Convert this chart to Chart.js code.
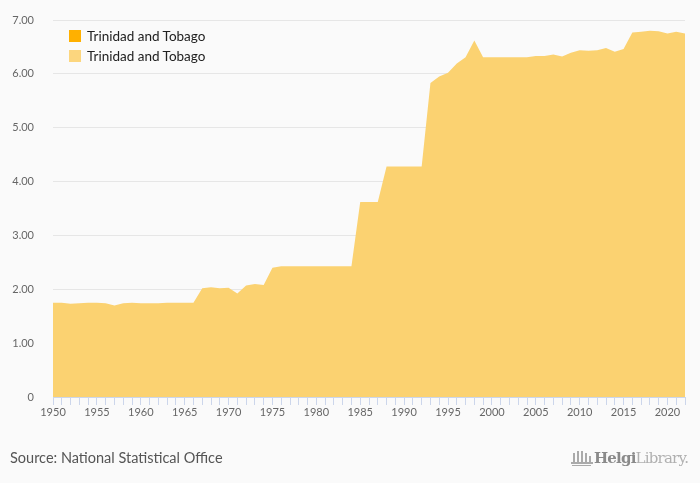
<!DOCTYPE html>
<html>
<head>
<meta charset="utf-8">
<script src="https://cdn.jsdelivr.net/npm/chart.js@4/dist/chart.umd.min.js"></script>
<style>
  body { margin: 0; background: #fafafa; }
  #wrap { position: relative; width: 700px; height: 483px; font-family: "Lato", sans-serif; }
  #legend { position: absolute; left: 69px; top: 26px; }
  .item { height: 20px; display: flex; align-items: center; font-size: 13.5px; color: #222; }
  .swatch { width: 12px; height: 12px; margin-right: 6px; }
  #source { position: absolute; left: 10px; top: 449px; font-size: 14.5px; color: #555; }
  #logo { position: absolute; left: 570px; top: 447px; height: 22px; display: flex; align-items: center; font-family: "DejaVu Serif", serif; font-size: 15px; letter-spacing: -0.8px; }
  #logo b { color: #8a8a8a; }
  #logo span { font-weight: 300; color: #b0b0b0; }
</style>
</head>
<body>
<div id="wrap">
  <canvas id="chart" width="700" height="483"></canvas>
  <div id="legend"></div>
  <div id="source">Source: National Statistical Office</div>
  <div id="logo">
    <svg width="24" height="20" viewBox="0 0 24 20">
      <g fill="#aaa">
        <rect x="3" y="5" width="2" height="9"/><rect x="7" y="3" width="2" height="11"/>
        <rect x="11" y="3" width="2" height="11"/><rect x="15" y="5" width="2" height="9"/>
        <rect x="19" y="8" width="2" height="6"/><rect x="1" y="14" width="22" height="2"/>
        <rect x="2" y="17" width="19" height="1"/>
      </g>
    </svg>
    <b>Helgi</b><span>Library.</span>
  </div>
</div>
<script>
const years = []
for (let y = 1950; y <= 2022; y++) years.push(y)

const values = [
  1.75, 1.75, 1.73, 1.74, 1.75, 1.75, 1.74, 1.70, 1.74, 1.75,
  1.74, 1.74, 1.74, 1.75, 1.75, 1.75, 1.75, 2.02, 2.04, 2.02,
  2.03, 1.92, 2.07, 2.10, 2.08, 2.40, 2.43, 2.43, 2.43, 2.43,
  2.43, 2.43, 2.43, 2.43, 2.43, 3.62, 3.62, 3.62, 4.28, 4.28,
  4.28, 4.28, 4.28, 5.83, 5.95, 6.02, 6.19, 6.31, 6.62, 6.31,
  6.31, 6.31, 6.31, 6.31, 6.31, 6.33, 6.33, 6.36, 6.32, 6.39,
  6.44, 6.43, 6.44, 6.48, 6.41, 6.46, 6.77, 6.78, 6.80, 6.79,
  6.75, 6.78, 6.75
]

const seriesNames = ["Trinidad and Tobago", "Trinidad and Tobago"]
const seriesColors = ["#ffb000", "#fcd67e"]
const yTicks = [0, 1, 2, 3, 4, 5, 6, 7]

const legend = document.getElementById("legend")
seriesNames.forEach((name, i) => {
  const row = document.createElement("div")
  row.className = "item"
  row.innerHTML = '<div class="swatch" style="background:' + seriesColors[i] + '"></div>' + name
  legend.appendChild(row)
})

new Chart(document.getElementById("chart"), {
  type: "line",
  data: {
    datasets: [
      {
        label: seriesNames[1],
        data: years.map((y, i) => ({ x: y, y: values[i] })),
        backgroundColor: "#fbd271",
        borderWidth: 0,
        pointRadius: 0,
        fill: "origin",
        tension: 0,
      },
    ],
  },
  options: {
    responsive: false,
    animation: false,
    layout: { padding: { left: 0, right: 15, top: 20, bottom: 56 } },
    plugins: { legend: { display: false }, tooltip: { enabled: false } },
    scales: {
      x: {
        type: "linear",
        min: 1950,
        max: 2022,
        afterFit: s => { s.height = 30 },
        border: { color: "#ccd6eb" },
        grid: { drawOnChartArea: false, tickLength: 8, tickColor: "#ccd6eb" },
        ticks: {
          stepSize: 1,
          autoSkip: false,
          maxRotation: 0,
          minRotation: 0,
          padding: 1,
          color: "#666",
          font: { family: "Lato", size: 11 },
          callback: v => (v % 5 === 0 ? String(v) : ""),
        },
      },
      y: {
        min: 0,
        max: 7,
        afterFit: s => { s.width = 53 },
        afterBuildTicks: s => { s.ticks = yTicks.map(v => ({ value: v })) },
        border: { display: false },
        // invisible ticks push the labels away from the plot
        grid: { color: "#e6e6e6", drawTicks: true, tickLength: 19, tickColor: "rgba(0,0,0,0)" },
        ticks: {
          padding: 0,
          color: "#666",
          font: { family: "Lato", size: 11 },
          callback: v => (v === 0 ? "0" : v.toFixed(2)),
        },
      },
    },
  },
})
</script>
</body>
</html>
